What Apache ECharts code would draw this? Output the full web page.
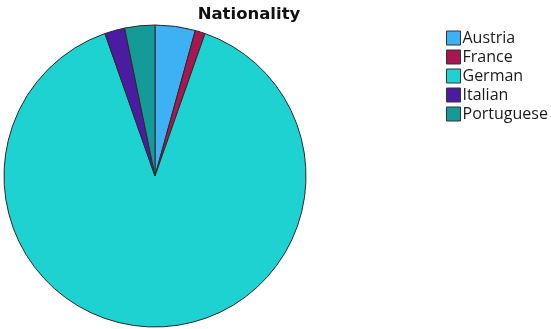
<!DOCTYPE html>
<html>
<head>
<meta charset="utf-8">
<style>
  html, body { margin: 0; padding: 0; background: #fff; }
  #chart { width: 551px; height: 329px; }
</style>
<script src="https://cdn.jsdelivr.net/npm/echarts@6/dist/echarts.min.js"></script>
</head>
<body>
<div id="chart"></div>
<script>
// Respondent counts by nationality
const categories = ['Austria', 'France', 'German', 'Italian', 'Portuguese'];
const counts = [4, 1, 83, 2, 3];
const colors = ['#3eb1f4', '#a8174f', '#1ed2d2', '#4b1ca2', '#149b97'];

const chart = echarts.init(document.getElementById('chart'), null, { renderer: 'canvas' });

chart.setOption({
  backgroundColor: '#ffffff',
  animation: false,
  title: {
    text: 'Nationality',
    left: 244,
    textAlign: 'center',
    top: 1,
    textStyle: {
      fontFamily: 'DejaVu Sans',
      fontSize: 16.5,
      fontWeight: 'bold',
      color: '#111'
    }
  },
  legend: {
    orient: 'vertical',
    left: 446,
    top: 30,
    padding: 0,
    itemWidth: 14,
    itemHeight: 14,
    itemGap: 3,
    icon: 'rect',
    selectedMode: false,
    itemStyle: { borderColor: '#333', borderWidth: 1 },
    textStyle: {
      fontFamily: 'Open Sans',
      fontSize: 16,
      lineHeight: 14,
      padding: [0, 0, 0, -3],
      color: '#1a1a1a'
    },
    data: categories
  },
  series: [{
    type: 'pie',
    center: [155, 176],
    radius: 151,
    startAngle: 90,
    clockwise: true,
    label: { show: false },
    labelLine: { show: false },
    emphasis: { disabled: true },
    itemStyle: { borderColor: '#2a2a2a', borderWidth: 1 },
    data: categories.map((name, i) => ({
      name,
      value: counts[i],
      itemStyle: { color: colors[i] }
    }))
  }]
});
</script>
</body>
</html>
